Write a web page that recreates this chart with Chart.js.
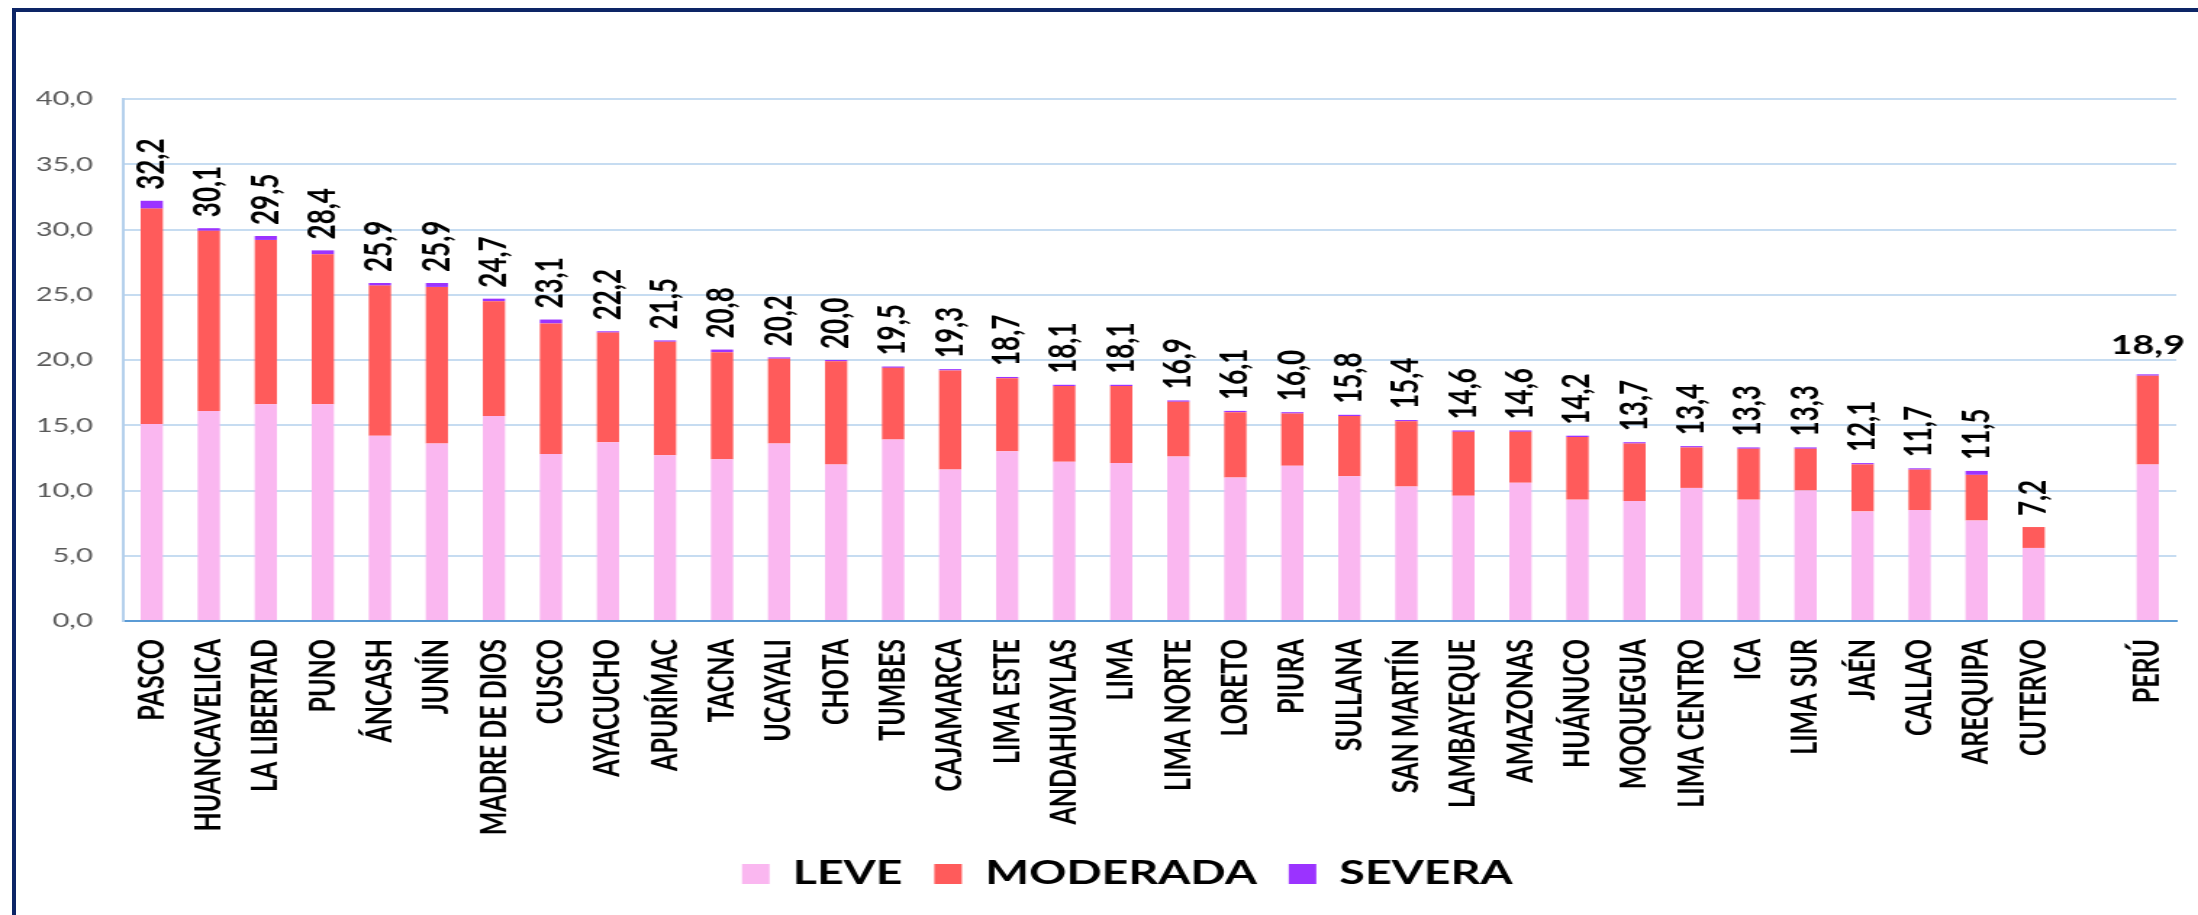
<!DOCTYPE html>
<html lang="es">
<head>
  <meta charset="UTF-8">
  <title>Anemia por región</title>
  <script src="https://cdn.jsdelivr.net/npm/chart.js"></script>
  <style>
    html, body {
      margin: 0;
      padding: 0;
      background: #fff;
      overflow: hidden;
      width: 2198px;
      height: 915px;
    }
    .frame {
      position: absolute;
      left: 12px;
      top: 8px;
      width: 3000px;
      height: 3000px;
      border-left: 4px solid #0d2566;
      border-top: 4px solid #0d2566;
    }
    #chart {
      position: absolute;
      left: 0;
      top: 0;
    }
  </style>
</head>
<body>
  <div class="frame"></div>
  <!-- the original picture is stretched sideways, so the canvas is drawn narrow and widened -->
  <canvas id="chart" width="1516" height="915" style="width:2198px;height:915px"></canvas>

  <script>
    const categories = ['PASCO', 'HUANCAVELICA', 'LA LIBERTAD', 'PUNO', 'ÁNCASH', 'JUNÍN', 'MADRE DE DIOS',
      'CUSCO', 'AYACUCHO', 'APURÍMAC', 'TACNA', 'UCAYALI', 'CHOTA', 'TUMBES', 'CAJAMARCA', 'LIMA ESTE',
      'ANDAHUAYLAS', 'LIMA', 'LIMA NORTE', 'LORETO', 'PIURA', 'SULLANA', 'SAN MARTÍN', 'LAMBAYEQUE',
      'AMAZONAS', 'HUÁNUCO', 'MOQUEGUA', 'LIMA CENTRO', 'ICA', 'LIMA SUR', 'JAÉN', 'CALLAO', 'AREQUIPA',
      'CUTERVO', '', 'PERÚ'];

    const leve = [15.1, 16.1, 16.6, 16.6, 14.2, 13.6, 15.7, 12.8, 13.7, 12.7, 12.4, 13.6, 12.0, 13.9, 11.6, 13.0,
      12.2, 12.1, 12.6, 11.0, 11.9, 11.1, 10.3, 9.6, 10.6, 9.3, 9.2, 10.2, 9.3, 10.0, 8.4, 8.5, 7.7,
      5.6, null, 12.0];
    const moderada = [16.5, 13.8, 12.6, 11.5, 11.5, 12.0, 8.8, 10.0, 8.4, 8.7, 8.2, 6.5, 7.9, 5.5, 7.6, 5.6,
      5.8, 5.9, 4.2, 5.0, 4.0, 4.6, 5.0, 4.9, 3.9, 4.8, 4.4, 3.1, 3.9, 3.2, 3.6, 3.1, 3.5,
      1.6, null, 6.8];
    const severa = [0.6, 0.2, 0.3, 0.3, 0.2, 0.3, 0.2, 0.3, 0.1, 0.1, 0.2, 0.1, 0.1, 0.1, 0.1, 0.1,
      0.1, 0.1, 0.1, 0.1, 0.1, 0.1, 0.1, 0.1, 0.1, 0.1, 0.1, 0.1, 0.1, 0.1, 0.1, 0.1, 0.3,
      0, null, 0.1];
    const totals = [32.2, 30.1, 29.5, 28.4, 25.9, 25.9, 24.7, 23.1, 22.2, 21.5, 20.8, 20.2, 20.0, 19.5, 19.3, 18.7,
      18.1, 18.1, 16.9, 16.1, 16.0, 15.8, 15.4, 14.6, 14.6, 14.2, 13.7, 13.4, 13.3, 13.3, 12.1, 11.7, 11.5,
      7.2, null, 18.9];

    const yTicks = [0, 5, 10, 15, 20, 25, 30, 35, 40];

    const fmt = v => v.toFixed(1).replace('.', ',');

    Chart.defaults.font.family = 'Lato, "Open Sans", sans-serif';

    // totals written over each stack
    const totalLabels = {
      id: 'totalLabels',
      afterLayout(chart) {
        // let the long category names run below the axis box, and nudge the legend right
        chart.scales.x.bottom = chart.height;
        chart.legend.left += 27;
        chart.legend.right += 27;
      },
      afterDatasetsDraw(chart) {
        const ctx = chart.ctx;
        const y = chart.scales.y;
        const bars = chart.getDatasetMeta(0).data;
        ctx.save();
        ctx.fillStyle = '#000';
        totals.forEach((t, i) => {
          if (t === null) return;
          const top = y.getPixelForValue((leve[i] || 0) + (moderada[i] || 0) + (severa[i] || 0));
          const x = bars[i].x;
          if (categories[i] === 'PERÚ') {
            ctx.font = 'bold 26px Lato, sans-serif';
            ctx.textAlign = 'center';
            ctx.textBaseline = 'bottom';
            ctx.fillText(fmt(t), x, top - 16);
          } else {
            ctx.save();
            ctx.translate(x, top - 11);
            ctx.rotate(-Math.PI / 2);
            ctx.font = 'bold 26px Lato, sans-serif';
            ctx.textAlign = 'left';
            ctx.textBaseline = 'middle';
            ctx.fillText(fmt(t), 0, 0);
            ctx.restore();
          }
        });
        ctx.restore();
      }
    };

    const barOpts = { barPercentage: 0.39, categoryPercentage: 1.0 };

    new Chart(document.getElementById('chart').getContext('2d'), {
      type: 'bar',
      data: {
        labels: categories,
        datasets: [
          { label: 'LEVE', data: leve, backgroundColor: '#FAB7F0', ...barOpts },
          { label: 'MODERADA', data: moderada, backgroundColor: '#FF5B5B', ...barOpts },
          { label: 'SEVERA', data: severa, backgroundColor: '#9B33FF', ...barOpts }
        ]
      },
      options: {
        responsive: false,
        devicePixelRatio: 1,
        animation: false,
        layout: { padding: { top: 99, right: 15, left: 0, bottom: 15 } },
        plugins: {
          tooltip: { enabled: false },
          legend: {
            position: 'bottom',
            labels: {
              boxWidth: 19,
              boxHeight: 20,
              padding: 22,
              color: '#000',
              font: { size: 32, weight: 'bold' }
            }
          }
        },
        scales: {
          x: {
            stacked: true,
            grid: { display: false, drawTicks: false },
            border: { color: '#5B9BD5', width: 2 },
            ticks: {
              autoSkip: false,
              minRotation: 90,
              maxRotation: 90,
              padding: 18,
              color: '#000',
              font: { size: 25, weight: 'bold' }
            },
            afterFit(scale) {
              scale.height = 215;
              scale.paddingLeft = 0;
              scale.paddingRight = 0;
            }
          },
          y: {
            stacked: true,
            min: 0,
            max: 40,
            afterBuildTicks(scale) { scale.ticks = yTicks.map(v => ({ value: v })); },
            grid: { color: '#C6DCF1', lineWidth: 2, drawTicks: false },
            border: { color: '#B5D0EC', width: 2 },
            ticks: {
              padding: 21,
              color: '#595959',
              font: { size: 20 },
              callback: v => fmt(v)
            },
            afterFit(scale) { scale.width = 85; }
          }
        }
      },
      plugins: [totalLabels]
    });
  </script>
</body>
</html>
